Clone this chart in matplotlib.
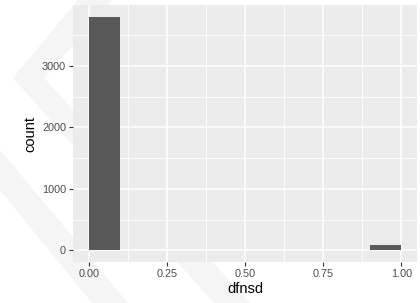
import numpy as np
import matplotlib.pyplot as plt
from matplotlib.patches import Polygon

plt.rcParams['font.family'] = ['Liberation Sans', 'DejaVu Sans']

# histogram data (10 bins over 0..1)
bin_edges = [0.0, 0.1, 0.2, 0.3, 0.4, 0.5, 0.6, 0.7, 0.8, 0.9, 1.0]
counts = [3800, 0, 0, 0, 0, 0, 0, 0, 0, 85]
x_ticks = [0.0, 0.25, 0.5, 0.75, 1.0]
x_labels = ['0.00', '0.25', '0.50', '0.75', '1.00']
y_ticks = [0, 1000, 2000, 3000]

W, H = 420, 303
fig = plt.figure(figsize=(W / 100, H / 100), dpi=100)
fig.patch.set_facecolor('white')

# faint watermark behind the panel (figure pixel coords -> fraction)
def px(pts):
    return [(x / W, 1 - y / H) for x, y in pts]

wm1 = px([(78, 0), (112, 0), (44, 78), (250, 303), (214, 303), (13, 78)])
wm2 = px([(0, 150), (0, 190), (92, 303), (128, 303)])
for pts in (wm1, wm2):
    fig.patches.append(Polygon(pts, closed=True, transform=fig.transFigure,
                               facecolor='#f5f5f5', edgecolor='none', zorder=-1))

ax = fig.add_axes([73 / W, 1 - 262 / H, (417 - 73) / W, (262 - 5) / H])
ax.set_facecolor('#EBEBEB')

ax.hist(bin_edges[:-1], bins=bin_edges, weights=counts, color='#595959', zorder=3)

ax.set_xlim(-0.05, 1.05)
ax.set_ylim(-190, 3990)
ax.set_xticks(x_ticks)
ax.set_xticklabels(x_labels)
ax.set_yticks(y_ticks)
ax.set_xticks([0.125, 0.375, 0.625, 0.875], minor=True)
ax.set_yticks([500, 1500, 2500, 3500], minor=True)

ax.grid(which='major', color='white', linewidth=1.1, zorder=1)
ax.grid(which='minor', color='white', linewidth=0.55, zorder=1)
ax.set_axisbelow(True)
for s in ax.spines.values():
    s.set_visible(False)

ax.tick_params(which='major', length=3, width=0.8, color='#333333',
               labelcolor='#4D4D4D', labelsize=7.8, pad=2)
ax.tick_params(which='minor', length=0)

ax.set_xlabel('dfnsd', fontsize=10.5, labelpad=2)
ax.set_ylabel('count', fontsize=10.5, labelpad=3)

fig.savefig('out.png', dpi=100)
